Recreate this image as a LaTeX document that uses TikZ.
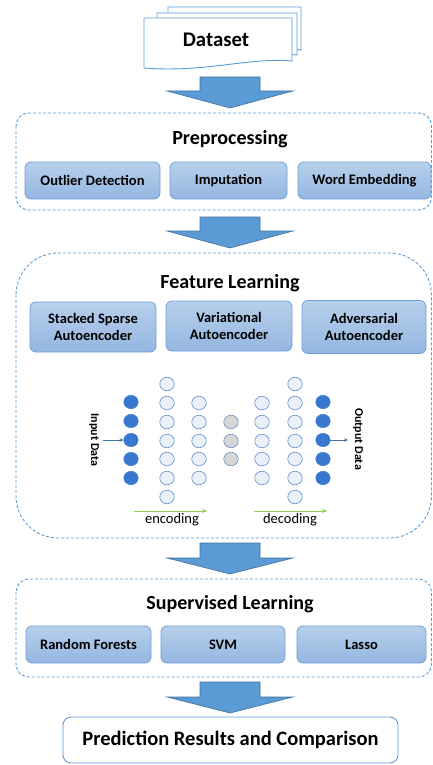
\documentclass[tikz,border=0pt]{standalone}
\usepackage{fontspec}
\setmainfont{Carlito}
\usetikzlibrary{shapes.geometric,arrows.meta}
\definecolor{arrowblue}{HTML}{5B9BD5}
\definecolor{arrowedge}{HTML}{41719C}
\definecolor{boxedge}{HTML}{6FA0D8}
\definecolor{boxtop}{HTML}{B7D0EC}
\definecolor{boxbot}{HTML}{94B6E0}
\definecolor{dashblue}{HTML}{5B9BD5}
\definecolor{nodeblue}{HTML}{3A78CF}
\definecolor{lightfill}{HTML}{EAF0F8}
\definecolor{lightedge}{HTML}{5B8FD6}
\definecolor{grayfill}{HTML}{D6D6D6}
\definecolor{grayedge}{HTML}{6C8FC2}
\definecolor{greenarrow}{HTML}{92D050}
\tikzset{
  subbox/.style={draw=boxedge, line width=0.8pt, rounded corners=6pt, top color=boxtop, bottom color=boxbot,
    font=\bfseries\fontsize{14.5}{17.5}\selectfont, align=center, inner sep=0pt},
  container/.style={draw=dashblue, line width=0.9pt, dash pattern=on 3pt off 2pt},
  title/.style={font=\bfseries\fontsize{20}{22}\selectfont, inner sep=0pt},
  bigarrow/.style={fill=arrowblue, draw=arrowedge, line width=0.6pt},
  bluenode/.style={ellipse, fill=nodeblue, draw=nodeblue, minimum width=14.5pt, minimum height=13.5pt, inner sep=0pt},
  lightnode/.style={ellipse, fill=lightfill, draw=lightedge, line width=0.6pt, minimum width=14.5pt, minimum height=13.5pt, inner sep=0pt},
  graynode/.style={ellipse, fill=grayfill, draw=grayedge, line width=0.6pt, minimum width=14.5pt, minimum height=13.5pt, inner sep=0pt},
  doc/.style={fill=white, draw=arrowblue, line width=0.9pt},
  sidelabel/.style={font=\bfseries\fontsize{12}{13}\selectfont, rotate=-90, inner sep=0pt},
  codelabel/.style={font=\fontsize{14.5}{16}\selectfont, inner sep=0pt}
}
\newcommand{\blockarrow}[4]{%
  \draw[bigarrow] (#1-30,#2) -- (#1+30,#2) -- (#1+30,#3) -- (#1+63,#3) -- (#1,#4) -- (#1-63,#3) -- (#1-30,#3) -- cycle;}
\begin{document}
\begin{tikzpicture}[x=1pt,y=-1pt]
\useasboundingbox (0,0) rectangle (433,765);

% Dataset stack
\draw[doc] (168,7) -- (301,7) -- (301,50) .. controls (280,47) and (240,54) .. (168,52) -- cycle;
\draw[doc] (157,13) -- (297,13) -- (297,55) .. controls (270,52) and (220,62) .. (157,60) -- cycle;
\draw[doc] (144,18) -- (292,18) -- (292,61) .. controls (250,57) and (205,73) .. (144,68) -- cycle;
\node[title, font=\bfseries\fontsize{20.8}{22}\selectfont] (dataset) at (216,40) {Dataset};

% Arrow 1
\blockarrow{230}{77}{91}{108}

% Preprocessing
\draw[container, rounded corners=13pt] (16,113) rectangle (431.5,210);
\node[title] (pre) at (230,139) {Preprocessing};
\node[subbox, minimum width=135pt, minimum height=37pt] (outlier) at (92.5,180.5) {Outlier Detection};
\node[subbox, minimum width=117pt, minimum height=37pt] (imput) at (228.5,180.5) {Imputation};
\node[subbox, minimum width=133pt, minimum height=37pt] (word) at (364.5,180.5) {Word Embedding};

% Arrow 2
\blockarrow{230}{217}{231}{248}

% Feature Learning
\draw[container, rounded corners=42pt] (16,253) rectangle (431.5,538);
\node[title] (feat) at (230,283) {Feature Learning};
\node[subbox, minimum width=126pt, minimum height=50pt] (ssae) at (93,327) {Stacked Sparse\\Autoencoder};
\node[subbox, minimum width=126pt, minimum height=50pt] (vae) at (229,326) {Variational\\Autoencoder};
\node[subbox, minimum width=124pt, minimum height=53pt] (aae) at (364,327) {Adversarial\\Autoencoder};

% Network
\foreach \i/\y in {1/402,2/421,3/440,4/459,5/478} {
  \node[bluenode] (a\i) at (131,\y) {};
  \node[bluenode] (g\i) at (323,\y) {};
}
\foreach \i/\y in {1/384,2/403,3/422,4/441,5/459,6/478,7/497} {
  \node[lightnode] (b\i) at (167,\y) {};
  \node[lightnode] (f\i) at (295,\y) {};
}
\foreach \i/\y in {1/403,2/422,3/441,4/459,5/478} {
  \node[lightnode] (c\i) at (199,\y) {};
  \node[lightnode] (e\i) at (262,\y) {};
}
\foreach \i/\y in {1/422,2/441,3/459} {
  \node[graynode] (d\i) at (231,\y) {};
}
\node[sidelabel] (inlabel) at (94,440) {Input Data};
\node[sidelabel] (outlabel) at (358,439) {Output Data};
\coordinate (instart) at (103,440);
\coordinate (outend) at (348,440);
\draw[-{Stealth[length=4pt,width=3.5pt]}, draw=arrowedge, line width=0.7pt] (instart) -- (a3);
\draw[-{Stealth[length=4pt,width=3.5pt]}, draw=arrowedge, line width=0.7pt] (g3) -- (outend);

\coordinate (encs) at (134,511);
\coordinate (ence) at (207,511);
\coordinate (decs) at (254,511);
\coordinate (dece) at (327,511);
\draw[-{Stealth[length=5pt,width=4pt]}, draw=greenarrow, line width=0.9pt] (encs) -- (ence);
\draw[-{Stealth[length=5pt,width=4pt]}, draw=greenarrow, line width=0.9pt] (decs) -- (dece);
\node[codelabel] (enc) at (172,520) {encoding};
\node[codelabel] (dec) at (290,520) {decoding};

% Arrow 3
\blockarrow{230}{543}{558}{574}

% Supervised Learning
\draw[container, rounded corners=13pt] (16,579) rectangle (431.5,677);
\node[title] (sup) at (230,604) {Supervised Learning};
\node[subbox, minimum width=125pt, minimum height=37pt] (rf) at (88.5,644.5) {Random Forests};
\node[subbox, minimum width=124pt, minimum height=37pt] (svm) at (223,644.5) {SVM};
\node[subbox, minimum width=129pt, minimum height=37pt] (lasso) at (361.5,644.5) {Lasso};

% Arrow 4
\blockarrow{230}{682}{697}{713}

% Prediction
\node[draw=arrowblue, line width=0.9pt, rounded corners=8pt, minimum width=335pt, minimum height=46pt,
  font=\bfseries\fontsize{20.5}{22}\selectfont, inner sep=0pt] (pred) at (230.5,740) {Prediction Results and Comparison};
\end{tikzpicture}
\end{document}
